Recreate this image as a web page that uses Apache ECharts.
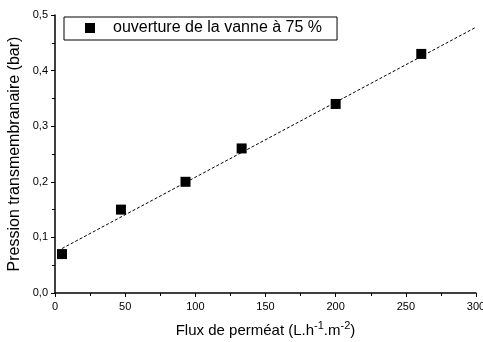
<!DOCTYPE html>
<html><head><meta charset="utf-8">
<script src="https://cdn.jsdelivr.net/npm/echarts@6/dist/echarts.min.js"></script>
<style>html,body{margin:0;padding:0;background:#fff}#c{width:483px;height:342px}</style>
</head><body><div id="c"></div>
<script>
const seriesName = 'ouverture de la vanne à 75 %';
const flux = [5, 47, 93, 133, 200, 261];
const pression = [0.07, 0.15, 0.20, 0.26, 0.34, 0.43];
const fitX = [5, 300];
const fitY = [0.08, 0.478];
const xTicks = [0, 50, 100, 150, 200, 250, 300];
const yTicks = [0, 0.1, 0.2, 0.3, 0.4, 0.5];

const chart = echarts.init(document.getElementById('c'), null, {renderer: 'canvas'});
const font = 'Liberation Sans, Arial, sans-serif';
chart.setOption({
  animation: false,
  textStyle: {fontFamily: font},
  grid: {left: 55, right: 7, top: 15, bottom: 49, containLabel: false, outerBoundsMode: 'none'},
  legend: {
    left: 64, top: 17,
    data: [{name: seriesName, icon: 'rect'}],
    itemWidth: 10, itemHeight: 10, itemGap: 0,
    padding: [3, 15, 4, 21],
    borderColor: '#000', borderWidth: 1, borderRadius: 0,
    textStyle: {fontFamily: font, fontSize: 16, color: '#000', padding: [0, 0, 0, 13]}
  },
  xAxis: {
    type: 'value', min: 0, max: 300, interval: 50,
    name: '{n|Flux de perméat (L.h}{s|-1}{n|.m}{s|-2}{n|)}',
    nameLocation: 'middle', nameGap: 27,
    nameTextStyle: {rich: {
      n: {fontFamily: font, fontSize: 15, color: '#000', verticalAlign: 'bottom'},
      s: {fontFamily: font, fontSize: 11, color: '#000', verticalAlign: 'top', padding: [0, 0, 7, 0]}
    }},
    axisLine: {lineStyle: {color: '#000', width: 1.5}},
    axisTick: {inside: false, length: 4, lineStyle: {color: '#000'}},
    minorTick: {show: true, splitNumber: 2, length: 3, lineStyle: {color: '#000'}},
    axisLabel: {fontSize: 11, color: '#000', margin: 8, formatter: v => xTicks.includes(v) ? String(v) : ''},
    splitLine: {show: false}
  },
  yAxis: {
    type: 'value', min: 0, max: 0.5, interval: 0.1,
    name: 'Pression transmembranaire (bar)',
    nameLocation: 'middle', nameGap: 32, nameMoveOverlap: false,
    nameTextStyle: {fontFamily: font, fontSize: 16, color: '#000'},
    axisLine: {show: true, lineStyle: {color: '#000', width: 1.5}},
    axisTick: {show: true, inside: false, length: 4, lineStyle: {color: '#000'}},
    minorTick: {show: true, splitNumber: 2, length: 3, lineStyle: {color: '#000'}},
    axisLabel: {fontSize: 11, color: '#000', margin: 7, formatter: v => v.toFixed(1).replace('.', ',')},
    splitLine: {show: false}
  },
  series: [
    {
      name: 'fit', type: 'line', data: fitX.map((x, i) => [x, fitY[i]]),
      symbol: 'none', lineStyle: {color: '#000', width: 1, type: [3, 2]}, z: 1
    },
    {
      name: seriesName, type: 'scatter', data: flux.map((x, i) => [x, pression[i]]),
      symbol: 'rect', symbolSize: 10, itemStyle: {color: '#000', opacity: 1}, z: 3
    }
  ]
});
</script></body></html>
